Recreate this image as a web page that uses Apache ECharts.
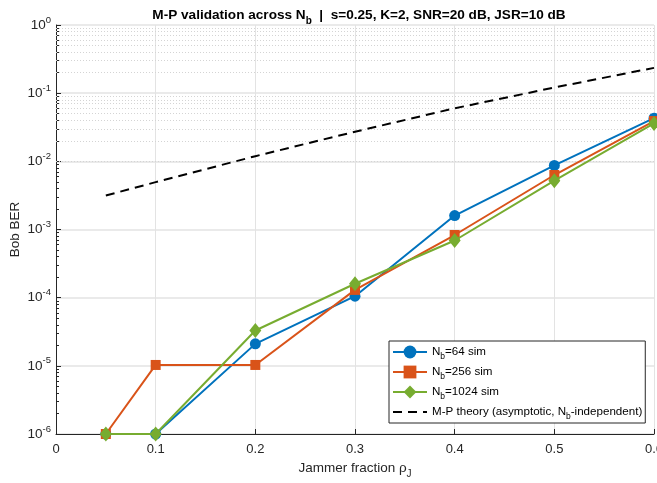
<!DOCTYPE html>
<html>
<head>
<meta charset="utf-8">
<script src="https://cdn.jsdelivr.net/npm/echarts@6/dist/echarts.min.js"></script>
<style>
html,body{margin:0;padding:0;background:#fff;}
#chart{width:657px;height:483px;}
</style>
</head>
<body>
<div id="chart"></div>
<script>
// ---- data ----
var rhoJ = [0.05, 0.1, 0.2, 0.3, 0.4, 0.5, 0.6];
var ber64 = [1e-6, 1e-6, 2.1e-5, 1.05e-4, 1.6e-3, 8.7e-3, 0.043];
var ber256 = [1e-6, 1.03e-5, 1.03e-5, 1.3e-4, 8.3e-4, 6.3e-3, 0.039];
var ber1024 = [1e-6, 1e-6, 3.3e-5, 1.6e-4, 6.9e-4, 5.2e-3, 0.036];
var berTheory = [3.15e-3, 4.95e-3, 0.0119, 0.0272, 0.060, 0.121, 0.235];
var xTicks = [0, 0.1, 0.2, 0.3, 0.4, 0.5, 0.6];
var yExpMin = -6, yExpMax = 0;
var seriesNames = ['Nb=64 sim', 'Nb=256 sim', 'Nb=1024 sim', 'M-P theory'];
var legendLabels = {
  'Nb=64 sim': 'N{sub|b}=64 sim',
  'Nb=256 sim': 'N{sub|b}=256 sim',
  'Nb=1024 sim': 'N{sub|b}=1024 sim',
  'M-P theory': 'M-P theory (asymptotic, N{sub|b}-independent)'
};

function pairs(xs, ys) { return xs.map(function (x, i) { return [x, ys[i]]; }); }

// minor log grid positions (2..9 x 10^e)
var minorLines = [];
for (var e = yExpMin; e < yExpMax; e++) {
  for (var k = 2; k <= 9; k++) minorLines.push({ yAxis: k * Math.pow(10, e) });
}

var FONT = '"Liberation Sans", Arial, Helvetica, sans-serif';
var AX = '#262626';

var chart = echarts.init(document.getElementById('chart'), null, { renderer: 'canvas' });
chart.setOption({
  animation: false,
  backgroundColor: '#fff',
  textStyle: { fontFamily: FONT },
  title: {
    text: 'M-P validation across N{sub|b}  |  s=0.25, K=2, SNR=20 dB, JSR=10 dB',
    left: 354, top: -1, textAlign: 'center',
    textStyle: {
      fontFamily: FONT, fontSize: 13.6, fontWeight: 'bold', color: '#000',
      rich: { sub: { fontSize: 10, fontWeight: 'bold', verticalAlign: 'bottom', lineHeight: 22, fontFamily: FONT } }
    }
  },
  grid: { left: 56, right: 3, top: 25, bottom: 49, containLabel: false, outerBoundsMode: 'none' },
  legend: {
    data: [
      { name: seriesNames[0] },
      { name: seriesNames[1] },
      { name: seriesNames[2] },
      { name: seriesNames[3], itemStyle: { opacity: 0 } }
    ],
    orient: 'vertical',
    left: 389, top: 341,
    backgroundColor: '#fff',
    borderColor: AX, borderWidth: 1,
    padding: [2, 3, 2, 3],
    itemWidth: 34, itemHeight: 16, itemGap: 2,
    formatter: function (n) { return legendLabels[n]; },
    textStyle: {
      fontFamily: FONT, fontSize: 11.6, color: '#000', lineHeight: 18,
      rich: { sub: { fontSize: 8.5, verticalAlign: 'bottom', lineHeight: 18, fontFamily: FONT } }
    }
  },
  xAxis: {
    type: 'value', min: 0, max: 0.6, interval: 0.1,
    name: 'Jammer fraction \u03c1{sub|J}',
    nameLocation: 'middle', nameGap: 23, nameMoveOverlap: false,
    nameTextStyle: {
      fontFamily: FONT, fontSize: 13.5, color: AX,
      rich: { sub: { fontSize: 10, verticalAlign: 'bottom', lineHeight: 22, fontFamily: FONT, color: AX } }
    },
    axisLine: { show: true, lineStyle: { color: AX, width: 1 } },
    axisTick: { show: true, inside: true, length: 5, lineStyle: { color: AX } },
    axisLabel: {
      fontFamily: FONT, fontSize: 13, color: AX, margin: 9, hideOverlap: false,
      formatter: function (v) { return String(Math.round(v * 10) / 10); }
    },
    splitLine: { show: true, lineStyle: { color: '#e3e3e3', width: 1 } }
  },
  yAxis: {
    type: 'log', logBase: 10, min: 1e-6, max: 1,
    name: 'Bob BER', nameLocation: 'middle', nameGap: 34, nameRotate: 90, nameMoveOverlap: false,
    nameTextStyle: { fontFamily: FONT, fontSize: 13.5, color: AX },
    axisLine: { show: true, lineStyle: { color: AX, width: 1 } },
    axisTick: { show: true, inside: true, length: 5, lineStyle: { color: AX } },
    minorTick: { show: true, splitNumber: 9, length: 3, lineStyle: { color: AX } },
    axisLabel: {
      fontFamily: FONT, fontSize: 13.5, color: AX, margin: 5,
      formatter: function (v) { return '10{sup|' + Math.round(Math.log10(v)) + '}'; },
      rich: { sup: { fontSize: 9.5, verticalAlign: 'top', lineHeight: 20, fontFamily: FONT, color: AX } }
    },
    splitLine: { show: true, lineStyle: { color: '#e3e3e3', width: 1.5 } }
  },
  series: [
    {
      name: seriesNames[0], type: 'line', data: pairs(rhoJ, ber64),
      color: '#0072BD', symbol: 'circle', symbolSize: 11, showSymbol: true,
      lineStyle: { width: 2 }, z: 3,
      markLine: {
        silent: true, symbol: 'none', label: { show: false },
        lineStyle: { color: '#d4d4d4', type: [1, 2], width: 1 },
        data: minorLines, z: 1, animation: false
      }
    },
    {
      name: seriesNames[1], type: 'line', data: pairs(rhoJ, ber256),
      color: '#D95319', symbol: 'rect', symbolSize: 10, showSymbol: true,
      lineStyle: { width: 2 }, z: 4
    },
    {
      name: seriesNames[2], type: 'line', data: pairs(rhoJ, ber1024),
      color: '#77AC30', symbol: 'diamond', symbolSize: [12, 15], showSymbol: true,
      lineStyle: { width: 2 }, z: 5
    },
    {
      name: seriesNames[3], type: 'line', data: pairs(rhoJ, berTheory),
      color: '#000', symbol: 'none', showSymbol: false,
      lineStyle: { width: 2, type: [9, 6], color: '#000' }, z: 6
    }
  ]
});
</script>
</body>
</html>
